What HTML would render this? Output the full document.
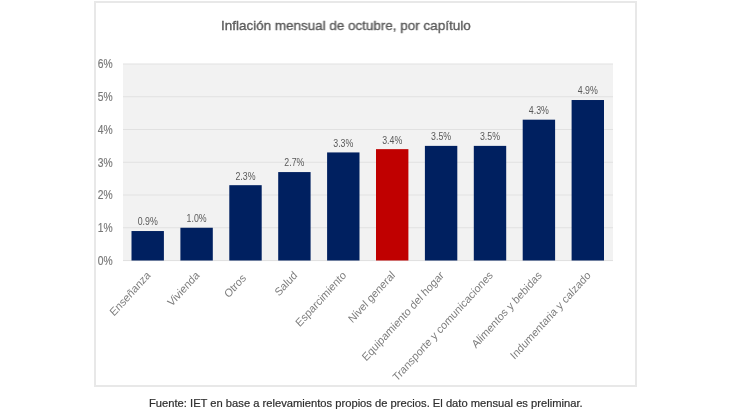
<!DOCTYPE html>
<html><head><meta charset="utf-8"><style>
html,body{margin:0;padding:0;background:#fff;width:730px;height:410px;overflow:hidden}
body{position:relative;font-family:"Liberation Sans",sans-serif}
.box{position:absolute;left:94px;top:1px;width:543px;height:386px;box-sizing:border-box;border:2px solid #e8e8e8}
svg{position:absolute;left:0;top:0;will-change:transform}
.yl{font-family:"Liberation Sans",sans-serif;font-size:12px;fill:#777;stroke:#777;stroke-width:0.15px}
.dl{font-family:"Liberation Sans",sans-serif;font-size:10.5px;fill:#595959}
.xl{font-family:"Liberation Sans",sans-serif;font-size:10.5px;fill:#7d7d7d}
.title{position:absolute;left:221px;top:17.5px;font-size:13.5px;font-weight:normal;color:#5a5a5a;-webkit-text-stroke:0.35px #5a5a5a;will-change:transform;white-space:nowrap;transform-origin:0 0;transform:scaleX(0.996)}
.foot{position:absolute;left:148.6px;top:397px;font-size:11px;color:#2e2e2e;-webkit-text-stroke:0.2px #2e2e2e;will-change:transform;white-space:nowrap;transform-origin:0 0;transform:scaleX(1.0165)}
</style></head><body>
<div class="box"></div>
<div class="title">Inflación mensual de octubre, por capítulo</div>
<svg width="730" height="410" viewBox="0 0 730 410">
<rect x="123.0" y="64.0" width="490.0" height="197.2" fill="#f2f2f2"/>
<rect x="123.0" y="63.50" width="490.0" height="1" fill="#e1e1e1"/>
<rect x="123.0" y="96.25" width="490.0" height="1" fill="#e1e1e1"/>
<rect x="123.0" y="129.00" width="490.0" height="1" fill="#e1e1e1"/>
<rect x="123.0" y="161.75" width="490.0" height="1" fill="#e1e1e1"/>
<rect x="123.0" y="194.50" width="490.0" height="1" fill="#e1e1e1"/>
<rect x="123.0" y="227.25" width="490.0" height="1" fill="#e1e1e1"/>
<rect x="123.0" y="260.00" width="490.0" height="1" fill="#e1e1e1"/>
<text x="0" y="0" text-anchor="end" class="yl" transform="translate(112.6 264.90) scale(0.86 1)">0%</text>
<text x="0" y="0" text-anchor="end" class="yl" transform="translate(112.6 232.15) scale(0.86 1)">1%</text>
<text x="0" y="0" text-anchor="end" class="yl" transform="translate(112.6 199.40) scale(0.86 1)">2%</text>
<text x="0" y="0" text-anchor="end" class="yl" transform="translate(112.6 166.65) scale(0.86 1)">3%</text>
<text x="0" y="0" text-anchor="end" class="yl" transform="translate(112.6 133.90) scale(0.86 1)">4%</text>
<text x="0" y="0" text-anchor="end" class="yl" transform="translate(112.6 101.15) scale(0.86 1)">5%</text>
<text x="0" y="0" text-anchor="end" class="yl" transform="translate(112.6 68.40) scale(0.86 1)">6%</text>
<rect x="131.50" y="231.03" width="32.4" height="29.48" fill="#002060"/>
<text x="0" y="0" text-anchor="middle" class="dl" transform="translate(147.70 225.43) scale(0.84 1)">0.9%</text>
<text x="0" y="0" text-anchor="end" class="xl" transform="translate(151.20 276.00) scale(1 1.095) rotate(-45)">Enseñanza</text>
<rect x="180.40" y="227.75" width="32.4" height="32.75" fill="#002060"/>
<text x="0" y="0" text-anchor="middle" class="dl" transform="translate(196.60 222.15) scale(0.84 1)">1.0%</text>
<text x="0" y="0" text-anchor="end" class="xl" transform="translate(200.10 276.00) scale(1 1.095) rotate(-45)">Vivienda</text>
<rect x="229.30" y="185.18" width="32.4" height="75.32" fill="#002060"/>
<text x="0" y="0" text-anchor="middle" class="dl" transform="translate(245.50 179.58) scale(0.84 1)">2.3%</text>
<text x="0" y="0" text-anchor="end" class="xl" transform="translate(246.60 278.60) scale(1 1.095) rotate(-45)">Otros</text>
<rect x="278.20" y="172.07" width="32.4" height="88.43" fill="#002060"/>
<text x="0" y="0" text-anchor="middle" class="dl" transform="translate(294.40 166.47) scale(0.84 1)">2.7%</text>
<text x="0" y="0" text-anchor="end" class="xl" transform="translate(297.90 276.00) scale(1 1.095) rotate(-45)">Salud</text>
<rect x="327.10" y="152.43" width="32.4" height="108.07" fill="#002060"/>
<text x="0" y="0" text-anchor="middle" class="dl" transform="translate(343.30 146.83) scale(0.84 1)">3.3%</text>
<text x="0" y="0" text-anchor="end" class="xl" transform="translate(346.80 276.00) scale(1 1.095) rotate(-45)">Esparcimiento</text>
<rect x="376.00" y="149.15" width="32.4" height="111.35" fill="#c00000"/>
<text x="0" y="0" text-anchor="middle" class="dl" transform="translate(392.20 143.55) scale(0.84 1)">3.4%</text>
<text x="0" y="0" text-anchor="end" class="xl" transform="translate(395.70 276.00) scale(1 1.095) rotate(-45)">Nivel general</text>
<rect x="424.90" y="145.88" width="32.4" height="114.62" fill="#002060"/>
<text x="0" y="0" text-anchor="middle" class="dl" transform="translate(441.10 140.28) scale(0.84 1)">3.5%</text>
<text x="0" y="0" text-anchor="end" class="xl" transform="translate(444.60 276.00) scale(1 1.095) rotate(-45)">Equipamiento del hogar</text>
<rect x="473.80" y="145.88" width="32.4" height="114.62" fill="#002060"/>
<text x="0" y="0" text-anchor="middle" class="dl" transform="translate(490.00 140.28) scale(0.84 1)">3.5%</text>
<text x="0" y="0" text-anchor="end" class="xl" transform="translate(493.50 276.00) scale(1 1.095) rotate(-45)">Transporte y comunicaciones</text>
<rect x="522.70" y="119.68" width="32.4" height="140.82" fill="#002060"/>
<text x="0" y="0" text-anchor="middle" class="dl" transform="translate(538.90 114.08) scale(0.84 1)">4.3%</text>
<text x="0" y="0" text-anchor="end" class="xl" transform="translate(542.40 276.00) scale(1 1.095) rotate(-45)">Alimentos y bebidas</text>
<rect x="571.60" y="100.02" width="32.4" height="160.48" fill="#002060"/>
<text x="0" y="0" text-anchor="middle" class="dl" transform="translate(587.80 94.42) scale(0.84 1)">4.9%</text>
<text x="0" y="0" text-anchor="end" class="xl" transform="translate(591.30 276.00) scale(1 1.095) rotate(-45)">Indumentaria y calzado</text>
</svg>
<div class="foot">Fuente: IET en base a relevamientos propios de precios. El dato mensual es preliminar.</div>
</body></html>
